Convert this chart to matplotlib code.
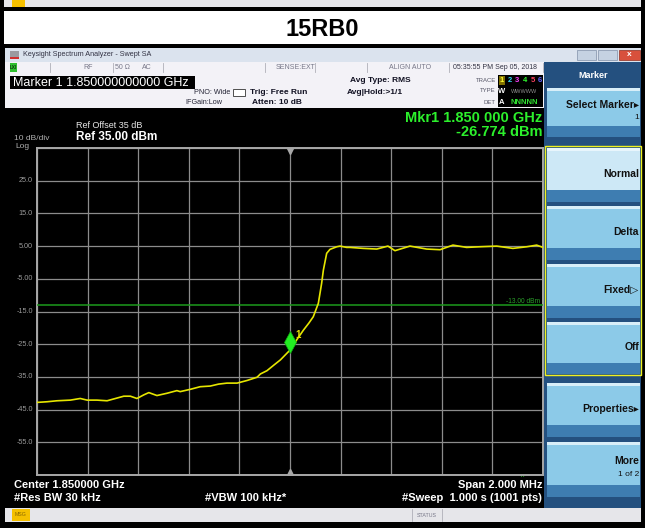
import matplotlib
matplotlib.use("Agg")
import matplotlib.pyplot as plt
from matplotlib.patches import Rectangle

plt.rcParams['font.family'] = ['Liberation Sans', 'DejaVu Sans']

# trace: offset from centre (MHz) and level (dBm)
offset_mhz = [-1.000, -0.960, -0.921, -0.868, -0.829, -0.802, -0.763, -0.723, -0.690, -0.657,
              -0.631, -0.605, -0.578, -0.558, -0.526, -0.486, -0.447, -0.434, -0.394, -0.355,
              -0.315, -0.282, -0.249, -0.209, -0.170, -0.130, -0.117, -0.091, -0.064, -0.038,
              0.000, 0.028, 0.053, 0.075, 0.092, 0.112, 0.125, 0.132, 0.145, 0.158,
              0.185, 0.198, 0.224, 0.237, 0.290, 0.343, 0.387, 0.415, 0.474, 0.540,
              0.593, 0.644, 0.698, 0.751, 0.817, 0.881, 0.936, 0.975, 1.000]
level_dbm = [-42.8, -42.6, -42.3, -42.1, -41.6, -42.1, -42.1, -42.3, -41.6, -40.9,
             -40.9, -41.6, -40.5, -39.8, -40.7, -40.0, -39.2, -39.5, -38.8, -38.0,
             -37.8, -37.2, -36.9, -36.9, -36.1, -35.1, -34.1, -33.1, -31.4, -29.8,
             -26.8, -23.5, -20.7, -18.5, -16.6, -12.5, -6.4, -2.3, 2.8, 4.0,
             4.8, 5.0, 4.6, 4.6, 4.3, 4.1, 5.0, 3.6, 5.0, 4.1,
             3.9, 5.3, 4.6, 4.8, 5.0, 4.3, 4.8, 5.3, 4.6]

ref_level = 35.0
db_per_div = 10
limit_line = -13.0
marker_offset = 0.0
marker_level = -26.774
y_ticks = [25.0, 15.0, 5.0, -5.0, -15.0, -25.0, -35.0, -45.0, -55.0]
y_tick_labels = ["25.0", "15.0", "5.00", "-5.00", "-15.0", "-25.0", "-35.0", "-45.0", "-55.0"]
softkeys = [("Normal", ""), ("Delta", ""), ("Fixed\u25B7", ""), ("Off", "")]

W, H = 645, 528
fig = plt.figure(figsize=(W / 100, H / 100), dpi=100)
bg = fig.add_axes([0, 0, 1, 1])
bg.set_xlim(0, W)
bg.set_ylim(H, 0)
bg.axis("off")


def rect(x, y, w, h, fc, ec="none", lw=0, z=1):
    bg.add_patch(Rectangle((x, y), w, h, facecolor=fc, edgecolor=ec, linewidth=lw, zorder=z))


def txt(x, y, s, size=6, color="black", ha="left", weight="normal", z=5):
    bg.text(x, y, s, fontsize=size, color=color, ha=ha, va="center", fontweight=weight, zorder=z)


# outer frame and title strip
rect(0, 0, W, H, "black", z=0)
rect(4, 0, W - 8, 7, "#e6e6ea")
rect(12, 0, 13, 7, "#f5c000")
rect(4, 11, W - 8, 33, "white")
txt(322, 29, "15RB0", size=17, weight="bold", ha="center")

# window title bar
rect(5, 48, 636, 14, "#dbe3ee")
rect(10, 51, 9, 8, "#9a9aa0")
rect(10, 57, 9, 2, "#d03030")
txt(23, 55, "Keysight Spectrum Analyzer - Swept SA", size=5.2, color="#333344")
rect(577, 50, 19, 10, "#c5d2e2", ec="#8090a8", lw=0.5)
rect(598, 50, 19, 10, "#c5d2e2", ec="#8090a8", lw=0.5)
rect(619, 50, 21, 10, "#d8503c", ec="#903020", lw=0.5)
txt(629.5, 55, "x", size=6, color="white", ha="center", weight="bold")

# status row
rect(5, 62, 539, 11, "#f3f2f7")
for xd in [50, 113, 163, 265, 315, 367, 449, 543]:
    bg.plot([xd, xd], [63, 72], color="#b0b0b8", lw=0.6, zorder=3)
rect(10, 63, 7, 9, "#30c030")
txt(13.5, 67.5, "LXI", size=3.5, ha="center")
txt(88, 67.5, "RF", size=5, color="#777788", ha="center")
txt(122, 67.5, "50 \u03A9", size=5, color="#777788", ha="center")
txt(147, 67.5, "AC", size=5, color="#777788", ha="center")
txt(296, 67.5, "SENSE:EXT", size=5, color="#777788", ha="center")
txt(410, 67.5, "ALIGN AUTO", size=5, color="#777788", ha="center")
txt(495, 67.5, "05:35:55 PM Sep 05, 2018", size=5, color="#333344", ha="center")

# marker / setup row
rect(5, 73, 539, 35, "#f3f2f7")
rect(10, 76, 185, 13, "black")
txt(13, 82.5, "Marker 1 1.850000000000 GHz", size=9, color="white")
txt(230, 93, "PNO: Wide", size=5.2, color="#222233", ha="right")
txt(222, 103, "IFGain:Low", size=5.2, color="#222233", ha="right")
rect(233, 89, 12, 7, "white", ec="#333333", lw=0.6)
txt(250, 92, "Trig: Free Run", size=6, weight="bold", color="#111122")
txt(252, 102, "Atten: 10 dB", size=6, weight="bold", color="#111122")
txt(350, 81, "Avg Type: RMS", size=6, weight="bold", color="#111122")
txt(347, 92, "Avg|Hold:>1/1", size=6, weight="bold", color="#111122")
txt(496, 80, "TRACE", size=4.3, color="#555566", ha="right")
txt(496, 91, "TYPE", size=4.3, color="#555566", ha="right")
txt(496, 102, "DET", size=4.3, color="#555566", ha="right")
rect(498, 75, 45, 32, "black")
rect(499, 76, 6, 9, "#807000")
for i, c in enumerate(["#ffff30", "#30e0ff", "#ff40ff", "#30ff30", "#ff4060", "#6060ff"]):
    txt(502 + i * 7.6, 80.5, str(i + 1), size=5.5, color=c, ha="center", weight="bold")
txt(502, 91.5, "W", size=5.5, color="white", ha="center", weight="bold")
txt(524, 91.5, "WWWWW", size=4, color="#909090", ha="center")
txt(502, 102, "A", size=5.5, color="white", ha="center", weight="bold")
txt(524, 102, "NNNNN", size=5.5, color="#30e030", ha="center", weight="bold")

# plot area texts
txt(76, 126, "Ref Offset 35 dB", size=6.5, color="#e8e8e8")
txt(76, 137.5, "Ref 35.00 dBm", size=8.5, color="white", weight="bold")
txt(14, 139, "10 dB/div", size=6, color="#b0b0b0")
txt(15, 146.5, "Log", size=6, color="#b0b0b0")
txt(542, 118.5, "Mkr1 1.850 000 GHz", size=10.5, color="#2cf02c", ha="right", weight="bold")
txt(542, 132.5, "-26.774 dBm", size=10.5, color="#2cf02c", ha="right", weight="bold")
txt(14, 485, "Center 1.850000 GHz", size=8, color="white", weight="bold")
txt(14, 498, "#Res BW 30 kHz", size=8, color="white", weight="bold")
txt(205, 498, "#VBW 100 kHz*", size=8, color="white", weight="bold")
txt(542, 485, "Span 2.000 MHz", size=8, color="white", ha="right", weight="bold")
txt(542, 498, "#Sweep  1.000 s (1001 pts)", size=8, color="white", ha="right", weight="bold")
txt(523, 477.5, "^", size=5, color="#30e030", ha="center")

# bottom status bar
rect(5, 508, 636, 14, "#e6e6ea")
rect(12, 509, 18, 12, "#f5c000")
txt(21, 515, "MSG", size=3.8, color="#886600", ha="center")
bg.plot([412, 412], [509, 521], color="#b0b0b8", lw=0.6, zorder=3)
bg.plot([442, 442], [509, 521], color="#b0b0b8", lw=0.6, zorder=3)
txt(427, 515.5, "STATUS", size=3.8, color="#777788", ha="center")

# softkey panel
rect(544, 62, 97, 446, "#24507f")
txt(593, 76, "Marker", size=6.5, color="white", ha="center", weight="bold")


def softkey(y0, y1, label, sub="", light=False):
    h = y1 - y0
    top = "#cde8f6" if light else "#8ccae8"
    rect(547, y0, 93, h * 0.78, top, z=2)
    rect(547, y0, 93, 3, "#d8eef8" if not light else "#e8f5fc", z=2)
    rect(547, y0 + h * 0.78, 93, h * 0.22, "#3e7db1", z=2)
    if sub:
        txt(639, y0 + h * 0.35, label, size=7.5, weight="bold", ha="right", color="#111111", z=6)
        txt(639, y0 + h * 0.6, sub, size=6, ha="right", color="#111111", z=6)
    else:
        txt(639, y0 + h * 0.48, label, size=7.5, weight="bold", ha="right", color="#111111", z=6)


softkey(88, 137, "Select Marker\u25B8", "1")
key_rows = [(148, 202), (206, 260), (264, 318), (322, 374)]
for (y0, y1), (label, sub) in zip(key_rows, softkeys):
    softkey(y0, y1, label, sub, light=(label == "Normal"))
rect(545, 146, 96, 229, "none", ec="#f0f020", lw=1, z=7)
softkey(383, 437, "Properties\u25B8")
softkey(442, 497, "More", "1 of 2")

# graticule
x0, x1, y0, y1 = 37, 543, 148, 475
ax = fig.add_axes([x0 / W, 1 - y1 / H, (x1 - x0) / W, (y1 - y0) / H])
ax.set_facecolor("black")
ax.set_xlim(-1, 1)
ax.set_ylim(ref_level - 10 * db_per_div, ref_level)
ax.set_xticks([-1 + 0.2 * i for i in range(11)])
ax.set_yticks([ref_level - db_per_div * i for i in range(11)])
ax.grid(True, color="#8c8c8c", lw=0.9)
ax.tick_params(length=0, labelbottom=False, labelleft=False)
for s in ax.spines.values():
    s.set_color("#a8a8a8")
    s.set_linewidth(1.4)

ax.axhline(limit_line, color="#1c9a1c", lw=1.1, zorder=3)
ax.text(0.99, limit_line + 1.2, "-13.00 dBm", color="#2aa02a", fontsize=4.8, ha="right", va="center")
ax.plot(offset_mhz, level_dbm, color="#e6e600", lw=1.2, zorder=4)
ax.plot([marker_offset], [marker_level + 2.4], marker="d", markersize=11, color="#22ee22",
        markeredgecolor="#11aa11", markeredgewidth=0.5, zorder=5)
ax.text(marker_offset + 0.022, marker_level + 4.6, "1", color="#e6e600", fontsize=7,
        fontweight="bold", va="center", zorder=5)
ax.plot([marker_offset], [ref_level - 0.9], marker="v", markersize=4, color="#a8a8a8", zorder=5)
ax.plot([marker_offset], [ref_level - 99.1], marker="^", markersize=4, color="#a8a8a8", zorder=5)

for v, lab in zip(y_ticks, y_tick_labels):
    ypix = y0 + (ref_level - v) / (10 * db_per_div) * (y1 - y0)
    txt(33, ypix, lab, size=5.2, color="#9a9a9a", ha="right")

fig.savefig("out.png", dpi=100, facecolor="black")
